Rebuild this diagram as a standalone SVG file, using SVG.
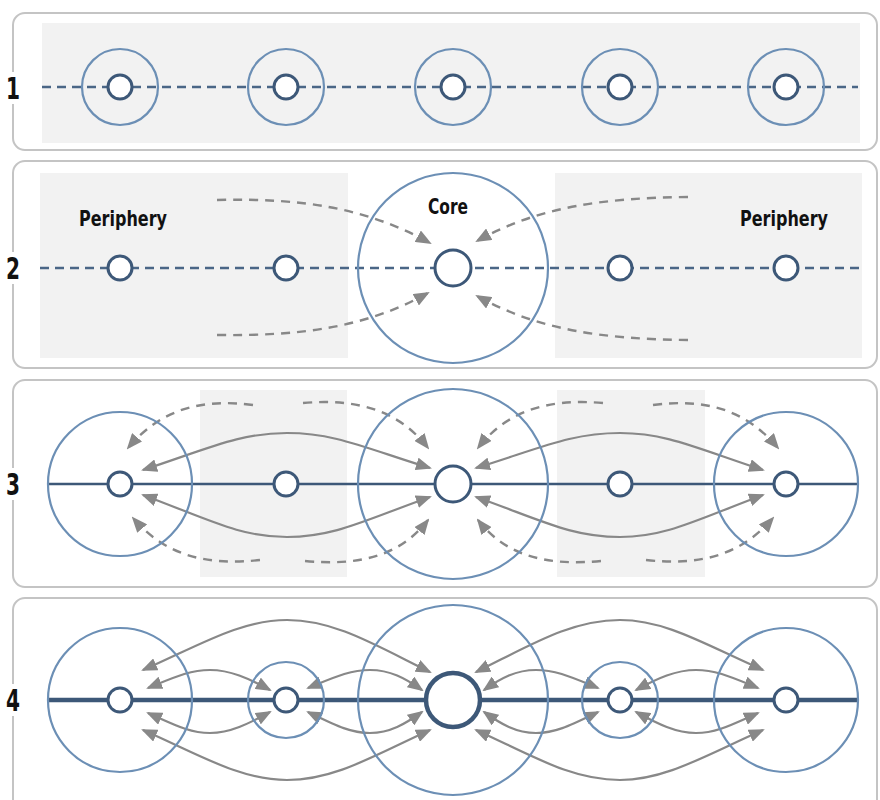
<svg xmlns="http://www.w3.org/2000/svg" width="880" height="800" viewBox="0 0 880 800">
<defs>
<marker id="ah" markerUnits="userSpaceOnUse" markerWidth="16" markerHeight="13" refX="14" refY="6.5" orient="auto-start-reverse" viewBox="0 0 16 13">
<path d="M0,0 L16,6.5 L0,13 z" fill="#888888"/>
</marker>
<style>
.panel{fill:#ffffff;stroke:#c4c4c4;stroke-width:2}
.bg{fill:#f2f2f2}
.ring{fill:none;stroke:#6c8fb5;stroke-width:2.2}
.node{fill:#ffffff;stroke:#3d5878;stroke-width:3}
.dline{stroke:#4a6686;stroke-width:2.5;stroke-dasharray:9 6;fill:none}
.sline{stroke:#3d5878;stroke-width:2.5;fill:none}
.tline{stroke:#3d5878;stroke-width:4.5;fill:none}
.da{fill:none;stroke:#888888;stroke-width:2.4;stroke-dasharray:9 7;marker-end:url(#ah)}
.sa{fill:none;stroke:#888888;stroke-width:2.2;marker-start:url(#ah);marker-end:url(#ah)}
.num{font-family:"DejaVu Sans Condensed","DejaVu Sans",sans-serif;font-weight:bold;font-size:30px;fill:#111111;text-anchor:middle}
.lbl{font-family:"DejaVu Sans Condensed","DejaVu Sans",sans-serif;font-weight:bold;font-size:22px;fill:#111111;text-anchor:middle}
</style>
</defs>
<rect width="880" height="800" fill="#ffffff"/>

<!-- Panels -->
<g id="panel1">
<rect class="panel" x="13" y="13" width="864" height="137" rx="12"/>
<rect class="bg" x="42" y="23" width="818" height="120"/>
<rect x="4" y="72" width="18" height="32" fill="#ffffff"/>
<text class="num" x="13" y="99" textLength="14" lengthAdjust="spacingAndGlyphs">1</text>
</g>
<g id="panel2">
<rect class="panel" x="13" y="161" width="864" height="207" rx="12"/>
<rect class="bg" x="40" y="173" width="308" height="185"/>
<rect class="bg" x="555" y="173" width="307" height="185"/>
<rect x="4" y="252" width="18" height="32" fill="#ffffff"/>
<text class="num" x="13" y="279" textLength="14" lengthAdjust="spacingAndGlyphs">2</text>
</g>
<g id="panel3">
<rect class="panel" x="13" y="380" width="864" height="207" rx="12"/>
<rect class="bg" x="200" y="390" width="147" height="187"/>
<rect class="bg" x="557" y="390" width="148" height="187"/>
<rect x="4" y="468" width="18" height="32" fill="#ffffff"/>
<text class="num" x="13" y="495" textLength="14" lengthAdjust="spacingAndGlyphs">3</text>
</g>
<g id="panel4">
<rect class="panel" x="13" y="598" width="864" height="214" rx="12"/>
<rect x="4" y="684" width="18" height="32" fill="#ffffff"/>
<text class="num" x="13" y="711" textLength="14" lengthAdjust="spacingAndGlyphs">4</text>
</g>

<!-- Connectors -->
<g id="connectors">
<line class="dline" x1="42" y1="87" x2="858" y2="87"/>
<line class="dline" x1="40" y1="268" x2="860" y2="268"/>
<line class="sline" x1="48" y1="484" x2="858" y2="484"/>
<line class="tline" x1="48" y1="700" x2="858" y2="700"/>

<!-- panel 2 dashed arrows -->
<path class="da" d="M217,200 C300,198 365,207 430,243"/>
<path class="da" d="M217,335 C300,336 365,328 428,293"/>
<path class="da" d="M688,197 C605,198 540,206 477,241"/>
<path class="da" d="M688,340 C605,339 540,331 477,296"/>

<!-- panel 3 dashed arrows -->
<path class="da" d="M253,405 C200,398 160,410 128,448"/>
<path class="da" d="M303,403 C360,398 400,412 428,448"/>
<path class="da" d="M260,560 C205,566 165,555 133,518"/>
<path class="da" d="M305,561 C360,566 400,556 428,520"/>
<path class="da" d="M653,405 C706,398 746,410 778,448"/>
<path class="da" d="M603,403 C546,398 506,412 478,448"/>
<path class="da" d="M646,560 C701,566 741,555 773,518"/>
<path class="da" d="M601,561 C546,566 506,556 478,520"/>

<!-- panel 3 solid arrows -->
<path class="sa" d="M143,470 C210,448 240,433 287,433 C335,433 365,448 430,468"/>
<path class="sa" d="M143,495 C210,520 240,537 287,537 C335,537 365,520 430,497"/>
<path class="sa" d="M476,468 C541,448 571,433 620,433 C666,433 696,448 763,470"/>
<path class="sa" d="M476,497 C541,520 571,537 620,537 C666,537 696,520 763,495"/>

<!-- panel 4 arrows -->
<path class="sa" d="M143,670 C200,645 240,620 287,620 C335,620 375,645 430,672"/>
<path class="sa" d="M148,688 C175,677 190,670 210,670 C230,670 248,678 270,690"/>
<path class="sa" d="M308,688 C335,677 350,670 370,670 C390,670 405,678 422,690"/>
<path class="sa" d="M148,713 C175,725 190,733 210,733 C230,733 248,724 270,712"/>
<path class="sa" d="M308,712 C335,725 350,733 370,733 C390,733 405,724 422,712"/>
<path class="sa" d="M143,730 C200,755 240,780 287,780 C335,780 375,755 430,730"/>

<path class="sa" d="M476,672 C531,645 571,620 620,620 C666,620 706,645 763,670"/>
<path class="sa" d="M484,690 C501,678 516,670 536,670 C556,670 571,677 598,688"/>
<path class="sa" d="M636,690 C658,678 676,670 696,670 C716,670 731,677 758,688"/>
<path class="sa" d="M484,712 C501,724 516,733 536,733 C556,733 571,725 598,712"/>
<path class="sa" d="M636,712 C658,724 676,733 696,733 C716,733 731,725 758,713"/>
<path class="sa" d="M476,730 C531,755 571,780 620,780 C666,780 706,755 763,730"/>
</g>

<!-- Panel 1 nodes -->
<g id="p1n1"><circle class="ring" cx="120" cy="87" r="38"/><circle class="node" cx="120" cy="87" r="12"/></g>
<g id="p1n2"><circle class="ring" cx="286" cy="87" r="38"/><circle class="node" cx="286" cy="87" r="12"/></g>
<g id="p1n3"><circle class="ring" cx="453" cy="87" r="38"/><circle class="node" cx="453" cy="87" r="12"/></g>
<g id="p1n4"><circle class="ring" cx="620" cy="87" r="38"/><circle class="node" cx="620" cy="87" r="12"/></g>
<g id="p1n5"><circle class="ring" cx="786" cy="87" r="38"/><circle class="node" cx="786" cy="87" r="12"/></g>

<!-- Panel 2 nodes -->
<g id="p2n1"><circle class="node" cx="120" cy="268" r="12"/><text class="lbl" x="123" y="226" textLength="88" lengthAdjust="spacingAndGlyphs">Periphery</text></g>
<g id="p2n2"><circle class="node" cx="286" cy="268" r="12"/></g>
<g id="p2n3"><circle class="ring" cx="453" cy="268" r="95"/><circle class="node" cx="453" cy="268" r="18"/><text class="lbl" x="448" y="214" textLength="40" lengthAdjust="spacingAndGlyphs">Core</text></g>
<g id="p2n4"><circle class="node" cx="620" cy="268" r="12"/></g>
<g id="p2n5"><circle class="node" cx="786" cy="268" r="12"/><text class="lbl" x="784" y="226" textLength="88" lengthAdjust="spacingAndGlyphs">Periphery</text></g>

<!-- Panel 3 nodes -->
<g id="p3n1"><circle class="ring" cx="120" cy="484" r="72"/><circle class="node" cx="120" cy="484" r="12"/></g>
<g id="p3n2"><circle class="node" cx="286" cy="484" r="12"/></g>
<g id="p3n3"><circle class="ring" cx="453" cy="484" r="95"/><circle class="node" cx="453" cy="484" r="18"/></g>
<g id="p3n4"><circle class="node" cx="620" cy="484" r="12"/></g>
<g id="p3n5"><circle class="ring" cx="786" cy="484" r="72"/><circle class="node" cx="786" cy="484" r="12"/></g>

<!-- Panel 4 nodes -->
<g id="p4n1"><circle class="ring" cx="120" cy="700" r="72"/><circle class="node" cx="120" cy="700" r="12"/></g>
<g id="p4n2"><circle class="ring" cx="286" cy="700" r="38"/><circle class="node" cx="286" cy="700" r="12"/></g>
<g id="p4n3"><circle class="ring" cx="453" cy="700" r="95"/><circle class="node" cx="453" cy="700" r="27" style="stroke-width:4.5"/></g>
<g id="p4n4"><circle class="ring" cx="620" cy="700" r="38"/><circle class="node" cx="620" cy="700" r="12"/></g>
<g id="p4n5"><circle class="ring" cx="786" cy="700" r="72"/><circle class="node" cx="786" cy="700" r="12"/></g>
</svg>
